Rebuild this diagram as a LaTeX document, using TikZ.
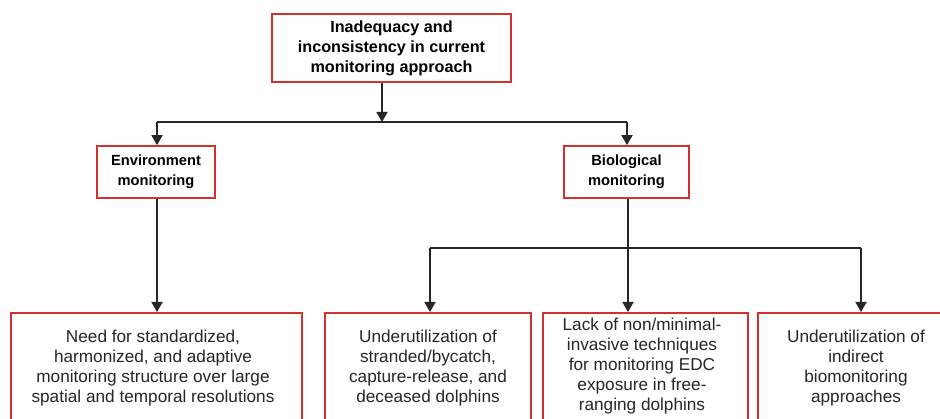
\documentclass[tikz,border=0pt]{standalone}
\usepackage{fontspec}
\setmainfont{Liberation Sans}
\usetikzlibrary{arrows.meta}
\definecolor{boxred}{HTML}{D2302C}
\definecolor{linegray}{HTML}{262626}
\tikzset{
  redbox/.style={draw=boxred, line width=1.7pt, fill=white, inner sep=0pt},
  headtxt/.style={align=center, font=\bfseries\fontsize{16.2}{20}\selectfont, text=black},
  bodytxt/.style={align=center, anchor=north, font=\fontsize{17.2}{20}\selectfont, text=black!85},
  conn/.style={draw=linegray, line width=1.8pt},
  arr/.style={conn, -{Triangle[width=11pt,length=10pt]}}
}
\begin{document}
\begin{tikzpicture}[x=1pt,y=-1pt]
\clip (0,0) rectangle (940,419);
\fill[white] (0,0) rectangle (940,419);
% top box
\node[redbox, minimum width=239pt, minimum height=68pt] (top) at (391.5,48) {};
\node[headtxt] (toptxt) at (top.center) {Inadequacy and\\inconsistency in current\\monitoring approach};
% second level
\node[redbox, minimum width=118pt, minimum height=52pt] (env) at (156,172) {};
\node[headtxt, font=\bfseries\fontsize{14.7}{20}\selectfont] (envtxt) at (env.center) {Environment\\monitoring};
\node[redbox, minimum width=125pt, minimum height=52pt] (bio) at (626.5,172) {};
\node[headtxt, font=\bfseries\fontsize{14.7}{20}\selectfont] (biotxt) at (bio.center) {Biological\\monitoring};
% bottom boxes
\node[redbox, minimum width=291pt, minimum height=140pt, anchor=north] (b1) at (156.5,312) {};
\node[redbox, minimum width=206pt, minimum height=140pt, anchor=north] (b2) at (428,312) {};
\node[redbox, minimum width=205pt, minimum height=140pt, anchor=north] (b3) at (645.5,312) {};
\node[redbox, minimum width=200pt, minimum height=140pt, anchor=north] (b4) at (858,312) {};
\node[bodytxt] (t1) at (153,327) {Need for standardized,\\harmonized, and adaptive\\monitoring structure over large\\spatial and temporal resolutions};
\node[bodytxt] (t2) at (428,327) {Underutilization of\\stranded/bycatch,\\capture-release, and\\deceased dolphins};
\node[bodytxt] (t3) at (642,315) {Lack of non/minimal-\\invasive techniques\\for monitoring EDC\\exposure in free-\\ranging dolphins};
\node[bodytxt] (t4) at (856,327) {Underutilization of\\indirect\\biomonitoring\\approaches};
% connectors
\coordinate (j1) at (382,122);
\coordinate (j1l) at (157,122);
\coordinate (j1r) at (627,122);
\draw[arr] (top.south -| j1) -- (j1);
\draw[conn] (j1l) -- (j1r);
\draw[arr] (j1l) -- (env.north -| j1l);
\draw[arr] (j1r) -- (bio.north -| j1r);
\draw[arr] (env.south -| j1l) -- (b1.north -| j1l);
\coordinate (j2) at (628,248);
\coordinate (j2l) at (430,248);
\coordinate (j2r) at (861,248);
\draw[conn] (bio.south -| j2) -- (j2);
\draw[conn] (j2l) -- (j2r);
\draw[arr] (j2l) -- (b2.north -| j2l);
\draw[arr] (j2) -- (b3.north -| j2);
\draw[arr] (j2r) -- (b4.north -| j2r);
\end{tikzpicture}
\end{document}
